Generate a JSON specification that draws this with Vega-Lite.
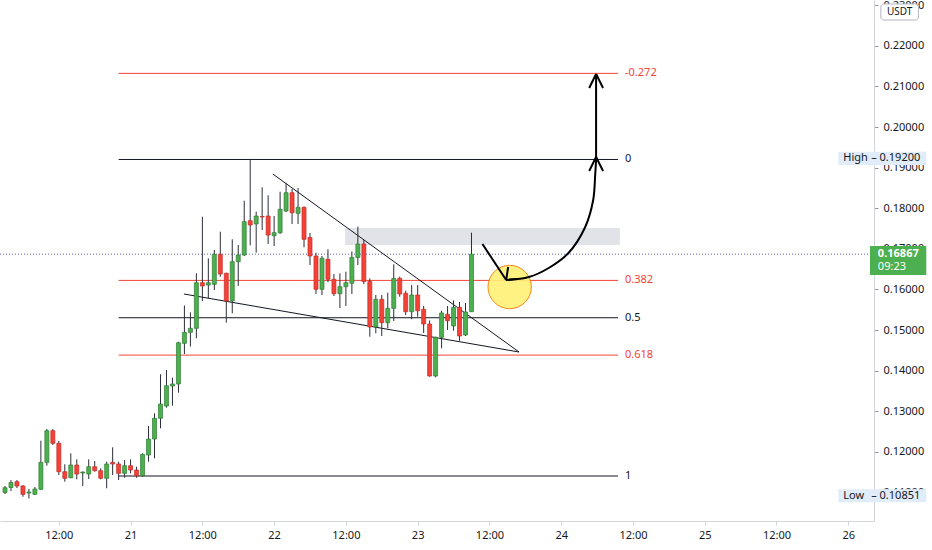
{
  "$schema": "https://vega.github.io/schema/vega-lite/v6.json",
  "width": 874,
  "height": 521,
  "autosize": {"type": "none"},
  "padding": {"left": 0, "top": 0, "right": 58, "bottom": 29},
  "background": "#ffffff",
  "config": {
    "font": "Noto Sans",
    "view": {"stroke": null}
  },
  "layer": [
    {
      "data": {"values": [{"t1": "2021-06-22T11:52", "t2": "2021-06-24T09:49", "p1": 0.17512, "p2": 0.17094}], "format": {"parse": {"t1": "date", "t2": "date"}}},
      "mark": {"type": "rect", "color": "#d1d4dc", "opacity": 0.65},
      "encoding": {
        "x": {"field": "t1", "type": "temporal", "title": null,
          "scale": {"domain": [{"year": 2021, "month": 6, "date": 20, "hours": 3}, {"year": 2021, "month": 6, "date": 26, "hours": 3, "minutes": 28}]},
          "axis": {"orient": "bottom",
            "values": [
              {"year": 2021, "month": 6, "date": 20, "hours": 12},
              {"year": 2021, "month": 6, "date": 21, "hours": 0},
              {"year": 2021, "month": 6, "date": 21, "hours": 12},
              {"year": 2021, "month": 6, "date": 22, "hours": 0},
              {"year": 2021, "month": 6, "date": 22, "hours": 12},
              {"year": 2021, "month": 6, "date": 23, "hours": 0},
              {"year": 2021, "month": 6, "date": 23, "hours": 12},
              {"year": 2021, "month": 6, "date": 24, "hours": 0},
              {"year": 2021, "month": 6, "date": 24, "hours": 12},
              {"year": 2021, "month": 6, "date": 25, "hours": 0},
              {"year": 2021, "month": 6, "date": 25, "hours": 12},
              {"year": 2021, "month": 6, "date": 26, "hours": 0}
            ],
            "labelExpr": "timeFormat(datum.value, '%H') == '00' ? timeFormat(datum.value, '%d') : '12:00'",
            "labelFontSize": 11, "labelColor": "#131722", "domainColor": "#d1d4dc", "tickColor": "#d1d4dc",
            "tickSize": 4, "labelPadding": 4, "labelFlush": false, "labelOverlap": false, "grid": false}},
        "x2": {"field": "t2"},
        "y": {"field": "p1", "type": "quantitative", "title": null,
          "scale": {"domain": [0.10296, 0.23128], "nice": false},
          "axis": {"orient": "right", "values": [0.11, 0.12, 0.13, 0.14, 0.15, 0.16, 0.17, 0.18, 0.19, 0.2, 0.21, 0.22, 0.23],
            "format": ".5f", "labelFontSize": 11, "labelColor": "#131722", "domainColor": "#d1d4dc",
            "tickColor": "#9598a1", "tickSize": 4, "labelPadding": 5, "grid": false}},
        "y2": {"field": "p2"}
      }
    },
    {
      "data": {"values": [{"p": 0.16867}]},
      "mark": {"type": "rule", "color": "#5c6bc0", "strokeDash": [1, 2], "strokeWidth": 1},
      "encoding": {"y": {"field": "p", "type": "quantitative", "title": null}}
    },
    {
      "data": {"values": [
        {"t1": "2021-06-20T22:00", "t2": "2021-06-24T09:30", "p": 0.21321, "lab": "-0.272"},
        {"t1": "2021-06-20T22:00", "t2": "2021-06-24T09:30", "p": 0.19200, "lab": "0"},
        {"t1": "2021-06-20T22:00", "t2": "2021-06-24T09:30", "p": 0.16222, "lab": "0.382"},
        {"t1": "2021-06-20T22:00", "t2": "2021-06-24T09:30", "p": 0.15302, "lab": "0.5"},
        {"t1": "2021-06-20T22:00", "t2": "2021-06-24T09:30", "p": 0.14382, "lab": "0.618"},
        {"t1": "2021-06-20T22:00", "t2": "2021-06-24T09:30", "p": 0.11404, "lab": "1"}
      ], "format": {"parse": {"t1": "date", "t2": "date"}}},
      "layer": [
        {
          "mark": {"type": "rule", "strokeWidth": 1},
          "encoding": {
            "x": {"field": "t1", "type": "temporal", "title": null},
            "x2": {"field": "t2"},
            "y": {"field": "p", "type": "quantitative", "title": null},
            "color": {"field": "lab", "type": "nominal", "legend": null,
              "scale": {"domain": ["-0.272", "0", "0.382", "0.5", "0.618", "1"], "range": ["#f44336", "#131722", "#f44336", "#131722", "#f44336", "#131722"]}}
          }
        },
        {
          "mark": {"type": "text", "align": "left", "baseline": "middle", "dx": 7, "fontSize": 11},
          "encoding": {
            "x": {"field": "t2", "type": "temporal", "title": null},
            "y": {"field": "p", "type": "quantitative", "title": null},
            "text": {"field": "lab", "type": "nominal"},
            "color": {"field": "lab", "type": "nominal", "legend": null}
          }
        }
      ]
    },
    {
      "data": {"values": [
        {"t1": "2021-06-21T23:47", "p1": 0.18842, "t2": "2021-06-23T16:57", "p2": 0.14458},
        {"t1": "2021-06-21T08:55", "p1": 0.15887, "t2": "2021-06-23T16:57", "p2": 0.14458}
      ], "format": {"parse": {"t1": "date", "t2": "date"}}},
      "mark": {"type": "rule", "color": "#131722", "strokeWidth": 1},
      "encoding": {
        "x": {"field": "t1", "type": "temporal", "title": null},
        "x2": {"field": "t2"},
        "y": {"field": "p1", "type": "quantitative", "title": null},
        "y2": {"field": "p2"}
      }
    },
    {
      "data": {"values": [
        {"t": "2021-06-20T03:00", "o": 0.10998, "h": 0.11158, "l": 0.10961, "c": 0.11116},
        {"t": "2021-06-20T04:00", "o": 0.11121, "h": 0.11305, "l": 0.11034, "c": 0.11244},
        {"t": "2021-06-20T05:00", "o": 0.11264, "h": 0.11305, "l": 0.11108, "c": 0.11158},
        {"t": "2021-06-20T06:00", "o": 0.11158, "h": 0.11182, "l": 0.10894, "c": 0.10953},
        {"t": "2021-06-20T07:00", "o": 0.10985, "h": 0.11084, "l": 0.10851, "c": 0.11010},
        {"t": "2021-06-20T08:00", "o": 0.10953, "h": 0.11133, "l": 0.10936, "c": 0.11084},
        {"t": "2021-06-20T09:00", "o": 0.11076, "h": 0.12273, "l": 0.11059, "c": 0.11741},
        {"t": "2021-06-20T10:00", "o": 0.11741, "h": 0.12562, "l": 0.11658, "c": 0.12520},
        {"t": "2021-06-20T11:00", "o": 0.12520, "h": 0.12562, "l": 0.12167, "c": 0.12209},
        {"t": "2021-06-20T12:00", "o": 0.12209, "h": 0.12266, "l": 0.11429, "c": 0.11510},
        {"t": "2021-06-20T13:00", "o": 0.11510, "h": 0.11692, "l": 0.11264, "c": 0.11347},
        {"t": "2021-06-20T14:00", "o": 0.11362, "h": 0.11963, "l": 0.11350, "c": 0.11675},
        {"t": "2021-06-20T15:00", "o": 0.11675, "h": 0.11815, "l": 0.11323, "c": 0.11453},
        {"t": "2021-06-20T16:00", "o": 0.11478, "h": 0.11515, "l": 0.11158, "c": 0.11502},
        {"t": "2021-06-20T17:00", "o": 0.11453, "h": 0.11815, "l": 0.11330, "c": 0.11633},
        {"t": "2021-06-20T18:00", "o": 0.11633, "h": 0.11773, "l": 0.11510, "c": 0.11535},
        {"t": "2021-06-20T19:00", "o": 0.11535, "h": 0.11594, "l": 0.11323, "c": 0.11347},
        {"t": "2021-06-20T20:00", "o": 0.11347, "h": 0.11756, "l": 0.11101, "c": 0.11700},
        {"t": "2021-06-20T21:00", "o": 0.11741, "h": 0.12111, "l": 0.11429, "c": 0.11700},
        {"t": "2021-06-20T22:00", "o": 0.11700, "h": 0.11756, "l": 0.11305, "c": 0.11470},
        {"t": "2021-06-20T23:00", "o": 0.11470, "h": 0.11798, "l": 0.11362, "c": 0.11658},
        {"t": "2021-06-21T00:00", "o": 0.11658, "h": 0.11815, "l": 0.11470, "c": 0.11552},
        {"t": "2021-06-21T01:00", "o": 0.11552, "h": 0.11633, "l": 0.11362, "c": 0.11411},
        {"t": "2021-06-21T02:00", "o": 0.11411, "h": 0.11963, "l": 0.11387, "c": 0.11938},
        {"t": "2021-06-21T03:00", "o": 0.11921, "h": 0.12635, "l": 0.11756, "c": 0.12315},
        {"t": "2021-06-21T04:00", "o": 0.12315, "h": 0.12948, "l": 0.11840, "c": 0.12825},
        {"t": "2021-06-21T05:00", "o": 0.12825, "h": 0.13909, "l": 0.12579, "c": 0.13177},
        {"t": "2021-06-21T06:00", "o": 0.13128, "h": 0.14015, "l": 0.13086, "c": 0.13628},
        {"t": "2021-06-21T07:00", "o": 0.13621, "h": 0.13825, "l": 0.13136, "c": 0.13670},
        {"t": "2021-06-21T08:00", "o": 0.13670, "h": 0.14712, "l": 0.13456, "c": 0.14687},
        {"t": "2021-06-21T09:00", "o": 0.14672, "h": 0.15604, "l": 0.14409, "c": 0.14943},
        {"t": "2021-06-21T10:00", "o": 0.14943, "h": 0.15436, "l": 0.14594, "c": 0.15042},
        {"t": "2021-06-21T11:00", "o": 0.15042, "h": 0.16397, "l": 0.14796, "c": 0.16165},
        {"t": "2021-06-21T12:00", "o": 0.16165, "h": 0.17791, "l": 0.15714, "c": 0.16084},
        {"t": "2021-06-21T13:00", "o": 0.16108, "h": 0.16766, "l": 0.15781, "c": 0.16165},
        {"t": "2021-06-21T14:00", "o": 0.16125, "h": 0.16970, "l": 0.15985, "c": 0.16864},
        {"t": "2021-06-21T15:00", "o": 0.16864, "h": 0.17421, "l": 0.16313, "c": 0.16379},
        {"t": "2021-06-21T16:00", "o": 0.16397, "h": 0.16411, "l": 0.15180, "c": 0.15714},
        {"t": "2021-06-21T17:00", "o": 0.15714, "h": 0.17234, "l": 0.15411, "c": 0.16682},
        {"t": "2021-06-21T18:00", "o": 0.16682, "h": 0.17094, "l": 0.16084, "c": 0.16847},
        {"t": "2021-06-21T19:00", "o": 0.16847, "h": 0.18185, "l": 0.16823, "c": 0.17668},
        {"t": "2021-06-21T20:00", "o": 0.17692, "h": 0.19200, "l": 0.17086, "c": 0.17586},
        {"t": "2021-06-21T21:00", "o": 0.17611, "h": 0.17914, "l": 0.16904, "c": 0.17808},
        {"t": "2021-06-21T22:00", "o": 0.17796, "h": 0.18515, "l": 0.17463, "c": 0.17783},
        {"t": "2021-06-21T23:00", "o": 0.17808, "h": 0.18318, "l": 0.17118, "c": 0.17340},
        {"t": "2021-06-22T00:00", "o": 0.17323, "h": 0.17808, "l": 0.17069, "c": 0.17397},
        {"t": "2021-06-22T01:00", "o": 0.17397, "h": 0.18406, "l": 0.17365, "c": 0.17973},
        {"t": "2021-06-22T02:00", "o": 0.17931, "h": 0.18621, "l": 0.17906, "c": 0.18382},
        {"t": "2021-06-22T03:00", "o": 0.18382, "h": 0.18473, "l": 0.17611, "c": 0.17889},
        {"t": "2021-06-22T04:00", "o": 0.17874, "h": 0.18498, "l": 0.17611, "c": 0.18022},
        {"t": "2021-06-22T05:00", "o": 0.18022, "h": 0.18042, "l": 0.17037, "c": 0.17234},
        {"t": "2021-06-22T06:00", "o": 0.17278, "h": 0.17389, "l": 0.16601, "c": 0.16823},
        {"t": "2021-06-22T07:00", "o": 0.16823, "h": 0.16904, "l": 0.15887, "c": 0.16002},
        {"t": "2021-06-22T08:00", "o": 0.16002, "h": 0.16823, "l": 0.15862, "c": 0.16766},
        {"t": "2021-06-22T09:00", "o": 0.16741, "h": 0.16988, "l": 0.16182, "c": 0.16249},
        {"t": "2021-06-22T10:00", "o": 0.16249, "h": 0.16379, "l": 0.15837, "c": 0.15894},
        {"t": "2021-06-22T11:00", "o": 0.15894, "h": 0.16397, "l": 0.15542, "c": 0.16067},
        {"t": "2021-06-22T12:00", "o": 0.16067, "h": 0.16436, "l": 0.15591, "c": 0.16165},
        {"t": "2021-06-22T13:00", "o": 0.16150, "h": 0.16933, "l": 0.15887, "c": 0.16786},
        {"t": "2021-06-22T14:00", "o": 0.16786, "h": 0.17544, "l": 0.16601, "c": 0.17118},
        {"t": "2021-06-22T15:00", "o": 0.17118, "h": 0.17217, "l": 0.16133, "c": 0.16195},
        {"t": "2021-06-22T16:00", "o": 0.16195, "h": 0.16273, "l": 0.14835, "c": 0.15074},
        {"t": "2021-06-22T17:00", "o": 0.15074, "h": 0.15862, "l": 0.14919, "c": 0.15756},
        {"t": "2021-06-22T18:00", "o": 0.15756, "h": 0.15862, "l": 0.14852, "c": 0.15180},
        {"t": "2021-06-22T19:00", "o": 0.15180, "h": 0.15919, "l": 0.15042, "c": 0.15534},
        {"t": "2021-06-22T20:00", "o": 0.15534, "h": 0.16618, "l": 0.15222, "c": 0.16268},
        {"t": "2021-06-22T21:00", "o": 0.16273, "h": 0.16313, "l": 0.15820, "c": 0.15887},
        {"t": "2021-06-22T22:00", "o": 0.15904, "h": 0.15968, "l": 0.15369, "c": 0.15451},
        {"t": "2021-06-22T23:00", "o": 0.15451, "h": 0.16108, "l": 0.15264, "c": 0.15862},
        {"t": "2021-06-23T00:00", "o": 0.15862, "h": 0.16108, "l": 0.15328, "c": 0.15475},
        {"t": "2021-06-23T01:00", "o": 0.15510, "h": 0.15591, "l": 0.14926, "c": 0.15148},
        {"t": "2021-06-23T02:00", "o": 0.15148, "h": 0.15234, "l": 0.13850, "c": 0.13867},
        {"t": "2021-06-23T03:00", "o": 0.13867, "h": 0.14835, "l": 0.13835, "c": 0.14820},
        {"t": "2021-06-23T04:00", "o": 0.14820, "h": 0.15475, "l": 0.14549, "c": 0.15419},
        {"t": "2021-06-23T05:00", "o": 0.15387, "h": 0.15591, "l": 0.15000, "c": 0.15229},
        {"t": "2021-06-23T06:00", "o": 0.15099, "h": 0.15732, "l": 0.14983, "c": 0.15559},
        {"t": "2021-06-23T07:00", "o": 0.15559, "h": 0.15690, "l": 0.14736, "c": 0.14852},
        {"t": "2021-06-23T08:00", "o": 0.14877, "h": 0.15665, "l": 0.14852, "c": 0.15443},
        {"t": "2021-06-23T09:00", "o": 0.15451, "h": 0.17397, "l": 0.15443, "c": 0.16867}
      ]},
      "layer": [
        {
          "mark": {"type": "rule", "color": "#2a2e39", "strokeWidth": 1},
          "encoding": {
            "x": {"field": "t", "type": "temporal", "title": null},
            "y": {"field": "l", "type": "quantitative", "title": null},
            "y2": {"field": "h"}
          }
        },
        {
          "mark": {"type": "bar", "size": 4, "strokeWidth": 0.7},
          "encoding": {
            "x": {"field": "t", "type": "temporal", "title": null},
            "y": {"field": "o", "type": "quantitative", "title": null},
            "y2": {"field": "c"},
            "color": {"condition": {"test": "datum.c >= datum.o", "value": "#4caf50"}, "value": "#f44336"},
            "stroke": {"condition": {"test": "datum.c >= datum.o", "value": "#2e7d32"}, "value": "#c62828"}
          }
        }
      ]
    },
    {
      "data": {"values": [{"t": "2021-06-23T15:23", "p": 0.16059}], "format": {"parse": {"t": "date"}}},
      "mark": {"type": "point", "shape": "circle", "filled": true, "size": 1880, "color": "#fff176", "opacity": 0.9, "stroke": "#f57c00", "strokeWidth": 1},
      "encoding": {
        "x": {"field": "t", "type": "temporal", "title": null},
        "y": {"field": "p", "type": "quantitative", "title": null}
      }
    },
    {
      "data": {"values": [
        {"t1": "2021-06-23T10:50", "p1": 0.17118, "t2": "2021-06-23T14:48", "p2": 0.16232},
        {"t1": "2021-06-23T14:48", "p1": 0.16232, "t2": "2021-06-23T15:08", "p2": 0.16552},
        {"t1": "2021-06-23T14:48", "p1": 0.16232, "t2": "2021-06-23T16:47", "p2": 0.16256},
        {"t1": "2021-06-24T04:41", "p1": 0.18916, "t2": "2021-06-24T05:50", "p2": 0.19261},
        {"t1": "2021-06-24T07:00", "p1": 0.18916, "t2": "2021-06-24T05:50", "p2": 0.19261},
        {"t1": "2021-06-24T05:50", "p1": 0.19261, "t2": "2021-06-24T05:50", "p2": 0.21305},
        {"t1": "2021-06-24T04:41", "p1": 0.20961, "t2": "2021-06-24T05:50", "p2": 0.21305},
        {"t1": "2021-06-24T07:00", "p1": 0.20961, "t2": "2021-06-24T05:50", "p2": 0.21305}
      ], "format": {"parse": {"t1": "date", "t2": "date"}}},
      "mark": {"type": "rule", "color": "#000000", "strokeWidth": 2},
      "encoding": {
        "x": {"field": "t1", "type": "temporal", "title": null},
        "x2": {"field": "t2"},
        "y": {"field": "p1", "type": "quantitative", "title": null},
        "y2": {"field": "p2"}
      }
    },
    {
      "data": {"values": [
        {"i": 0, "t": "2021-06-23T14:48", "p": 0.16232},
        {"i": 1, "t": "2021-06-23T18:36", "p": 0.16305},
        {"i": 2, "t": "2021-06-23T21:55", "p": 0.16527},
        {"i": 3, "t": "2021-06-24T01:13", "p": 0.16897},
        {"i": 4, "t": "2021-06-24T04:01", "p": 0.17537},
        {"i": 5, "t": "2021-06-24T05:21", "p": 0.18202},
        {"i": 6, "t": "2021-06-24T05:41", "p": 0.18818},
        {"i": 7, "t": "2021-06-24T05:50", "p": 0.19187}
      ], "format": {"parse": {"t": "date"}}},
      "mark": {"type": "line", "color": "#000000", "strokeWidth": 2, "interpolate": "catmull-rom"},
      "encoding": {
        "x": {"field": "t", "type": "temporal", "title": null},
        "y": {"field": "p", "type": "quantitative", "title": null},
        "order": {"field": "i", "type": "quantitative"}
      }
    },
    {
      "data": {"values": [
        {"t1": "2021-06-26T05:27", "t2": "2021-06-26T11:44", "p1": 0.23030, "p2": 0.22635}
      ], "format": {"parse": {"t1": "date", "t2": "date"}}},
      "mark": {"type": "rect", "color": "#ffffff", "stroke": "#b2b5be", "strokeWidth": 1, "cornerRadius": 3},
      "encoding": {
        "x": {"field": "t1", "type": "temporal", "title": null},
        "x2": {"field": "t2"},
        "y": {"field": "p1", "type": "quantitative", "title": null},
        "y2": {"field": "p2"}
      }
    },
    {
      "data": {"values": [
        {"t1": "2021-06-25T22:20", "t2": "2021-06-26T13:03", "p1": 0.19392, "p2": 0.19064},
        {"t1": "2021-06-25T22:20", "t2": "2021-06-26T13:03", "p1": 0.11076, "p2": 0.10756}
      ], "format": {"parse": {"t1": "date", "t2": "date"}}},
      "mark": {"type": "rect", "color": "#e1ecf9"},
      "encoding": {
        "x": {"field": "t1", "type": "temporal", "title": null},
        "x2": {"field": "t2"},
        "y": {"field": "p1", "type": "quantitative", "title": null},
        "y2": {"field": "p2"}
      }
    },
    {
      "data": {"values": [
        {"t1": "2021-06-26T03:38", "t2": "2021-06-26T13:03", "p1": 0.17069, "p2": 0.16355}
      ], "format": {"parse": {"t1": "date", "t2": "date"}}},
      "mark": {"type": "rect", "color": "#4caf50"},
      "encoding": {
        "x": {"field": "t1", "type": "temporal", "title": null},
        "x2": {"field": "t2"},
        "y": {"field": "p1", "type": "quantitative", "title": null},
        "y2": {"field": "p2"}
      }
    },
    {
      "data": {"values": [
        {"t": "2021-06-26T08:35", "p": 0.22833, "txt": "USDT"}
      ], "format": {"parse": {"t": "date"}}},
      "mark": {"type": "text", "align": "center", "baseline": "middle", "fontSize": 10, "color": "#131722"},
      "encoding": {
        "x": {"field": "t", "type": "temporal", "title": null},
        "y": {"field": "p", "type": "quantitative", "title": null},
        "text": {"field": "txt", "type": "nominal"}
      }
    },
    {
      "data": {"values": [
        {"t": "2021-06-25T23:10", "p": 0.19228, "txt": "High"},
        {"t": "2021-06-26T03:50", "p": 0.19228, "txt": "–  0.19200"},
        {"t": "2021-06-25T23:10", "p": 0.10916, "txt": "Low"},
        {"t": "2021-06-26T03:50", "p": 0.10916, "txt": "–  0.10851"}
      ], "format": {"parse": {"t": "date"}}},
      "mark": {"type": "text", "align": "left", "baseline": "middle", "fontSize": 11, "color": "#131722"},
      "encoding": {
        "x": {"field": "t", "type": "temporal", "title": null},
        "y": {"field": "p", "type": "quantitative", "title": null},
        "text": {"field": "txt", "type": "nominal"}
      }
    },
    {
      "data": {"values": [
        {"t": "2021-06-26T04:57", "p": 0.16867, "txt": "0.16867"}
      ], "format": {"parse": {"t": "date"}}},
      "mark": {"type": "text", "align": "left", "baseline": "middle", "fontSize": 11, "fontWeight": "bold", "color": "#ffffff"},
      "encoding": {
        "x": {"field": "t", "type": "temporal", "title": null},
        "y": {"field": "p", "type": "quantitative", "title": null},
        "text": {"field": "txt", "type": "nominal"}
      }
    },
    {
      "data": {"values": [
        {"t": "2021-06-26T04:57", "p": 0.16552, "txt": "09:23"}
      ], "format": {"parse": {"t": "date"}}},
      "mark": {"type": "text", "align": "left", "baseline": "middle", "fontSize": 11, "color": "#ffffff"},
      "encoding": {
        "x": {"field": "t", "type": "temporal", "title": null},
        "y": {"field": "p", "type": "quantitative", "title": null},
        "text": {"field": "txt", "type": "nominal"}
      }
    }
  ]
}
